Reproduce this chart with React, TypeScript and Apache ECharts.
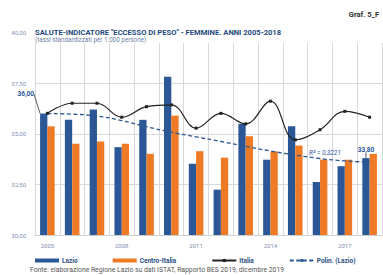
import React, { useEffect, useRef } from "react";
import * as echarts from "echarts";

const years = ["2005", "2006", "2007", "2008", "2009", "2010", "2011", "2012", "2013", "2014", "2015", "2016", "2017", "2018"];
const lazio = [36.0, 35.69, 36.2, 34.34, 35.69, 37.82, 33.52, 32.24, 35.49, 33.72, 35.37, 32.62, 33.4, 33.8];
const centroItalia = [35.37, 34.51, 34.62, 34.51, 34.01, 35.9, 34.14, 33.82, 34.88, 34.13, 34.42, 33.73, 33.72, 34.01];
const italia = [36.01, 36.51, 36.51, 35.82, 36.34, 36.43, 35.28, 36.01, 35.49, 36.61, 34.7, 35.2, 36.11, 35.82];
const polinLazio = [36.0, 35.97, 35.88, 35.65, 35.35, 35.08, 34.85, 34.62, 34.38, 34.15, 33.95, 33.78, 33.66, 33.6];

const BLUE = "#2b5797";
const ORANGE = "#ef7a25";
const LABEL = "#7f8fb3";
const FONT = "Roboto";

const fmt = (v: number) => v.toFixed(2).replace(".", ",");

export default function App() {
  const ref = useRef<HTMLDivElement>(null);
  useEffect(() => {
    if (!ref.current) return;
    const chart = echarts.init(ref.current, null, { renderer: "svg" });
    chart.setOption({
      animation: false,
      backgroundColor: "#fff",
      grid: { left: 35, right: 1, top: 32.6, bottom: 40 },
      xAxis: {
        type: "category",
        data: years,
        axisLine: { lineStyle: { color: "#cfcfcf" } },
        axisTick: { show: false },
        axisLabel: { interval: 2, color: LABEL, fontSize: 6, fontFamily: FONT, margin: 7 },
        splitLine: { show: true, interval: 0, lineStyle: { color: "#d9d9d9", width: 1 } },
      },
      yAxis: {
        type: "value",
        min: 30,
        max: 40,
        interval: 2.5,
        axisLine: { show: false },
        axisTick: { show: false },
        axisLabel: { color: LABEL, fontSize: 6, fontFamily: FONT, formatter: (v: number) => fmt(v), margin: 9 },
        splitLine: { lineStyle: { color: "#d9d9d9", width: 1 } },
      },
      legend: {
        left: 30,
        top: 252,
        itemWidth: 24,
        itemHeight: 4,
        itemGap: 35,
        textStyle: { fontSize: 6.5, fontWeight: "bold", color: "#2b4f85", fontFamily: FONT, padding: [0, 0, 0, -2] },
        data: [
          { name: "Lazio", icon: "rect" },
          { name: "Centro-Italia", icon: "rect" },
          { name: "Italia" },
          { name: "Polin. (Lazio)" },
        ],
      },
      title: {
        text: "SALUTE-INDICATORE \"ECCESSO DI PESO\" - FEMMINE. ANNI 2005-2018",
        subtext: "(tassi standardizzati per 1.000 persone)",
        left: 34,
        top: 27,
        padding: [1, 1, 2, 1],
        itemGap: 1,
        textStyle: { fontSize: 7.6, fontWeight: "bold", color: "#23497e", fontFamily: FONT },
        subtextStyle: { fontSize: 6.3, color: "#6d7fa6", fontFamily: FONT },
        z: 20,
      },
      graphic: [
        {
          type: "rect",
          left: 34,
          top: 26,
          z: 15,
          shape: { width: 349, height: 17 },
          style: { fill: "#fff" },
        },
        {
          type: "text",
          right: 4,
          top: 10,
          style: { text: "Graf. 5_F", fontSize: 7.5, fontWeight: "bold", fill: "#333", fontFamily: FONT },
        },
        {
          type: "text",
          left: 30,
          top: 266,
          style: {
            text: "Fonte: elaborazione Regione Lazio su dati ISTAT, Rapporto BES 2019, dicembre 2019",
            fontSize: 6.8,
            fill: "#555",
            fontFamily: FONT,
          },
        },
      ],
      series: [
        {
          name: "Lazio",
          type: "bar",
          barWidth: 7.3,
          barGap: "0%",
          itemStyle: { color: BLUE },
          labelLine: { show: true, lineStyle: { color: "#333", width: 0.8 } },
          labelLayout: (p: any) => (p.dataIndex === 0 ? { dx: -18, dy: -11 } : {}),
          data: lazio.map((v, i) => {
            if (i === 0)
              return {
                value: v,
                label: { show: true, position: "top", formatter: () => fmt(v), color: BLUE, fontSize: 6.5, fontWeight: "bold", fontFamily: FONT },
                labelLine: { show: true, lineStyle: { color: "#333", width: 0.8 } },
              };
            if (i === lazio.length - 1)
              return {
                value: v,
                label: { show: true, position: "top", formatter: () => fmt(v), offset: [2, -1], color: BLUE, fontSize: 6.5, fontWeight: "bold", fontFamily: FONT },
              };
            return v;
          }),
          z: 2,
        },
        {
          name: "Centro-Italia",
          type: "bar",
          barWidth: 7.3,
          barGap: "0%",
          itemStyle: { color: ORANGE },
          data: centroItalia,
          z: 2,
        },
        {
          name: "Italia",
          type: "line",
          smooth: 0.4,
          symbol: "rect",
          symbolSize: 3,
          itemStyle: { color: "#222" },
          lineStyle: { color: "#222", width: 1.2 },
          data: italia,
          z: 4,
        },
        {
          name: "Polin. (Lazio)",
          type: "line",
          smooth: true,
          symbol: "circle",
          symbolSize: 0.01,
          showSymbol: true,
          lineStyle: { color: BLUE, width: 1.3, type: [4, 2.5] },
          itemStyle: { color: BLUE },
          data: polinLazio.map((v, i) =>
            i === 11
              ? {
                  value: v,
                  label: { show: true, position: "top", formatter: "R² = 0,3221", offset: [5, 3], color: BLUE, fontSize: 6.5, fontFamily: FONT, fontStyle: "italic" },
                }
              : v
          ),
          z: 3,
        },
      ],
    });
    return () => chart.dispose();
  }, []);
  return <div ref={ref} style={{ width: 383, height: 275, position: "absolute", left: 0, top: 0 }} />;
}
